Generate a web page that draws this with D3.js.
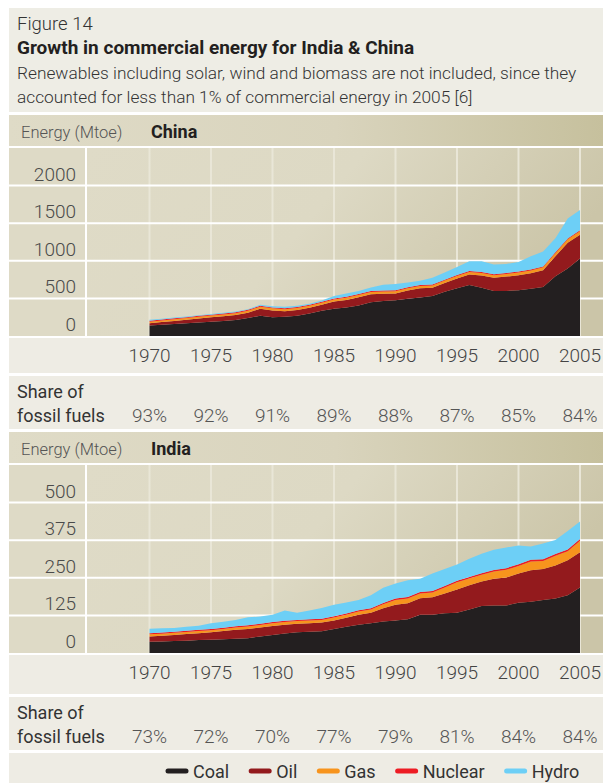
<!DOCTYPE html>
<html lang="en">
<head>
<meta charset="utf-8">
<title>Growth in commercial energy for India &amp; China</title>
<style>
  body { margin: 0; background: #fff; }
  svg { display: block; font-family: Roboto, "Open Sans", sans-serif; }
</style>
</head>
<body>
<script src="https://d3js.org/d3.v7.min.js"></script>
<div id="chart"></div>
<script>
// years shown on the x axis (one value per year)
const years = [1970, 1971, 1972, 1973, 1974, 1975, 1976, 1977, 1978, 1979,
  1980, 1981, 1982, 1983, 1984, 1985, 1986, 1987, 1988, 1989,
  1990, 1991, 1992, 1993, 1994, 1995, 1996, 1997, 1998, 1999,
  2000, 2001, 2002, 2003, 2004, 2005];
const tickYears = [1970, 1975, 1980, 1985, 1990, 1995, 2000, 2005];

// China, Mtoe
const chinaCoal = [138, 150, 160, 170, 180, 191, 200, 213, 240, 268, 250, 255, 270, 300, 335, 362, 379, 405, 450, 465,
  476, 495, 511, 533, 590, 634, 678, 642, 599, 600, 608, 629, 651, 796, 897, 1029];
const chinaOil = [31, 35, 40, 45, 52, 57, 62, 65, 70, 94, 90, 75, 75, 75, 80, 96, 101, 110, 105, 97,
  90, 110, 123, 109, 115, 132, 140, 163, 175, 190, 201, 206, 224, 264, 343, 316];
const chinaGas = [22, 22, 23, 23, 24, 24, 25, 25, 26, 28, 28, 27, 27, 28, 28, 29, 29, 30, 30, 30,
  30, 30, 31, 31, 32, 33, 34, 34, 34, 35, 36, 37, 38, 42, 45, 48];
const chinaNuclear = [12, 12, 12, 12, 12, 12, 12, 12, 12, 12, 12, 12, 12, 12, 12, 12, 12, 12, 12, 12,
  12, 12, 12, 12, 12, 12, 12, 12, 12, 12, 12, 12, 12, 12, 12, 12];
const chinaHydro = [12, 11, 10, 10, 9, 10, 10, 12, 9, 13, 15, 21, 18, 13, 17, 34, 44, 43, 48, 76,
  82, 65, 58, 90, 96, 108, 130, 143, 130, 121, 128, 175, 200, 186, 267, 269];
const chinaTicks = [0, 500, 1000, 1500, 2000];
const chinaShare = ["93%", "92%", "91%", "89%", "88%", "87%", "85%", "84%"];

// India, Mtoe
const indiaCoal = [37, 38, 40, 41, 43, 44, 46, 47, 49, 55, 60, 65, 69, 71, 72, 80, 87, 94, 99, 105,
  108, 112, 127, 127, 132, 134, 145, 156, 158, 158, 167, 170, 176, 181, 192, 218];
const indiaOil = [18, 19, 20, 22, 23, 25, 27, 30, 31, 30, 30, 29, 28, 28, 29, 28, 30, 33, 35, 44,
  52, 53, 55, 58, 66, 77, 80, 82, 89, 93, 97, 105, 103, 110, 116, 117];
const indiaGas = [7, 7, 7, 7, 7, 7, 7, 8, 8, 8, 9, 9, 9, 9, 9, 10, 10, 11, 11, 13,
  16, 16, 16, 16, 20, 24, 23, 22, 24, 26, 25, 29, 27, 32, 30, 38];
const indiaNuclear = [4, 4, 4, 4, 4, 4, 4, 4, 4, 4, 4, 4, 4, 4, 4, 4, 4, 4, 4, 4,
  5, 5, 5, 5, 5, 5, 5, 5, 5, 5, 6, 6, 6, 6, 6, 6];
const indiaHydro = [15, 14, 12, 13, 14, 19, 20, 21, 27, 24, 24, 34, 24, 29, 36, 38, 37, 34, 43, 51,
  50, 56, 44, 58, 56, 54, 60, 65, 67, 69, 62, 44, 52, 47, 62, 58];
const indiaTicks = [0, 125, 250, 375, 500];
const indiaShare = ["73%", "72%", "70%", "77%", "79%", "81%", "84%", "84%"];

const fuels = ["Coal", "Oil", "Gas", "Nuclear", "Hydro"];
const fuelColors = ["#231f20", "#931a1d", "#f7941d", "#ed1c24", "#6dcff6"];

const W = 603, H = 783;
const svg = d3.select("#chart").append("svg")
  .attr("width", W).attr("height", H);

const defs = svg.append("defs");
const hdr = defs.append("linearGradient").attr("id", "hdrGrad");
hdr.append("stop").attr("offset", "0%").attr("stop-color", "#dfdbc7");
hdr.append("stop").attr("offset", "55%").attr("stop-color", "#d9d4bd");
hdr.append("stop").attr("offset", "100%").attr("stop-color", "#c6c09d");
const plotG = defs.append("linearGradient").attr("id", "plotGrad")
  .attr("x1", 0).attr("y1", 0).attr("x2", 1).attr("y2", 0.3);
plotG.append("stop").attr("offset", "0%").attr("stop-color", "#dfdbc7");
plotG.append("stop").attr("offset", "50%").attr("stop-color", "#ddd9c4");
plotG.append("stop").attr("offset", "100%").attr("stop-color", "#cbc5a8");

// title block
svg.append("rect").attr("x", 9).attr("y", 8).attr("width", W - 9).attr("height", 104).attr("fill", "#eeede5");
const head = svg.append("g").attr("fill", "#333");
head.append("text").attr("x", 17).attr("y", 30).attr("font-size", 18.5).attr("font-weight", 300).text("Figure 14");
head.append("text").attr("x", 17).attr("y", 54).attr("font-size", 19).attr("font-weight", 700)
  .attr("fill", "#231f20").text("Growth in commercial energy for India & China");
head.append("text").attr("x", 17).attr("y", 79).attr("font-size", 17.3).attr("font-weight", 300)
  .text("Renewables including solar, wind and biomass are not included, since they");
head.append("text").attr("x", 17).attr("y", 103).attr("font-size", 17.3).attr("font-weight", 300)
  .text("accounted for less than 1% of commercial energy in 2005 [6]");

const x = d3.scaleLinear().domain([1970, 2005]).range([149.5, 580]);

function drawPanel(p) {
  const g = svg.append("g");
  const T = p.top;
  const c0 = T + 33, c1 = c0 + 188;
  const y = d3.scaleLinear().domain([0, p.yTop]).range([c1, c0]);

  // header bar
  g.append("rect").attr("x", 9).attr("y", T).attr("width", W - 9).attr("height", 31).attr("fill", "url(#hdrGrad)");
  g.append("text").attr("x", 21).attr("y", T + 23).attr("font-size", 16.5).attr("font-weight", 300)
    .attr("fill", "#555").text("Energy (Mtoe)");
  g.append("text").attr("x", 151).attr("y", T + 23).attr("font-size", 18).attr("font-weight", 700)
    .attr("fill", "#231f20").text(p.name);

  // label column + plot background
  g.append("rect").attr("x", 9).attr("y", c0).attr("width", 76).attr("height", c1 - c0).attr("fill", "#dedac6");
  g.append("rect").attr("x", 87).attr("y", c0).attr("width", W - 87).attr("height", c1 - c0).attr("fill", "url(#plotGrad)");

  // vertical year lines
  g.selectAll(".vgrid").data(tickYears).join("line")
    .attr("x1", d => x(d)).attr("x2", d => x(d))
    .attr("y1", c0).attr("y2", c1)
    .attr("stroke", "#e9e6d7").attr("stroke-width", 2);

  // horizontal white lines
  g.selectAll(".hgrid").data(p.ticks.slice(1)).join("line")
    .attr("x1", 9).attr("x2", W)
    .attr("y1", d => y(d)).attr("y2", d => y(d))
    .attr("stroke", "#fff").attr("stroke-width", 2);

  // stacked areas
  const rows = years.map((yr, i) => {
    const r = { year: yr };
    fuels.forEach((f, k) => { r[f] = p.series[k][i]; });
    return r;
  });
  const stacked = d3.stack().keys(fuels)(rows);
  const area = d3.area()
    .x(d => x(d.data.year))
    .y0(d => y(d[0]))
    .y1(d => y(d[1]));
  g.selectAll(".layer").data(stacked).join("path")
    .attr("d", area)
    .attr("fill", (d, i) => fuelColors[i]);

  // y labels, sitting just above their gridline
  g.selectAll(".ylab").data(p.ticks).join("text")
    .attr("x", 76).attr("y", d => y(d) - 5)
    .attr("text-anchor", "end").attr("font-size", 19).attr("font-weight", 300)
    .attr("fill", "#4a4a4a").text(d => d);

  // white separator between label column and plot
  g.append("rect").attr("x", 85).attr("y", c0).attr("width", 2).attr("height", c1 - c0).attr("fill", "#fff");

  // x axis band
  const xb = c1 + 2;
  g.append("rect").attr("x", 9).attr("y", xb).attr("width", W - 9).attr("height", p.xBandH).attr("fill", "#eeece4");
  g.selectAll(".xlab").data(tickYears).join("text")
    .attr("x", d => x(d)).attr("y", c1 + 26)
    .attr("text-anchor", "middle").attr("font-size", 19).attr("font-weight", 300)
    .attr("fill", "#444").text(d => d);

  // share of fossil fuels
  const sb = xb + p.xBandH + 3;
  g.append("rect").attr("x", 9).attr("y", sb).attr("width", W - 9).attr("height", 53).attr("fill", "#eeece4");
  g.append("text").attr("x", 17).attr("y", sb + 22).attr("font-size", 18).attr("fill", "#333").text("Share of");
  g.append("text").attr("x", 17).attr("y", sb + 46).attr("font-size", 18).attr("fill", "#333").text("fossil fuels");
  g.selectAll(".share").data(p.share).join("text")
    .attr("x", (d, i) => x(tickYears[i])).attr("y", sb + 46)
    .attr("text-anchor", "middle").attr("font-size", 19).attr("font-weight", 300)
    .attr("fill", "#555").text(d => d);
}

drawPanel({
  name: "China", top: 115, yTop: 2500, ticks: chinaTicks, share: chinaShare, xBandH: 35,
  series: [chinaCoal, chinaOil, chinaGas, chinaNuclear, chinaHydro]
});
drawPanel({
  name: "India", top: 432, yTop: 625, ticks: indiaTicks, share: indiaShare, xBandH: 39,
  series: [indiaCoal, indiaOil, indiaGas, indiaNuclear, indiaHydro]
});

// legend
svg.append("rect").attr("x", 9).attr("y", 753).attr("width", W - 9).attr("height", H - 753).attr("fill", "#eeece4");
const leg = svg.append("g");
let lx = 166;
fuels.forEach((f, i) => {
  leg.append("line").attr("x1", lx + 2).attr("x2", lx + 20).attr("y1", 771).attr("y2", 771)
    .attr("stroke", fuelColors[i]).attr("stroke-width", 5).attr("stroke-linecap", "round");
  const t = leg.append("text").attr("x", lx + 27).attr("y", 778).attr("font-size", 18)
    .attr("fill", "#333").text(f);
  lx += 27 + t.node().getComputedTextLength() + 20;
});
</script>
</body>
</html>
